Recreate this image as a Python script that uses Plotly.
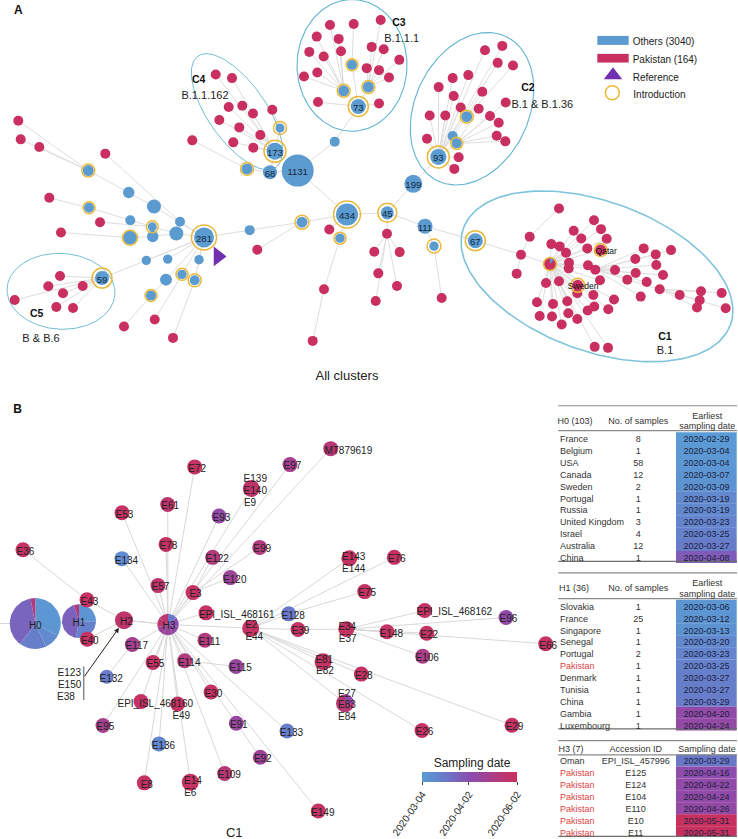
import math
import plotly.graph_objects as go
from plotly.colors import sample_colorscale

W, H = 738, 839
BLUE, RED, GOLD, PURPLE = "#5B9BD0", "#C9305F", "#E9B93C", "#7030B0"
EDGE, ELL, ELL_C1 = "#DEDEDE", "#62B5D0", "#7FC4DC"
SCALE = [[0, "#5A9BD5"], [0.25, "#6A78C8"], [0.5, "#8B4DB0"], [1, "#CB2F5B"]]
FONT = "Liberation Sans, Arial, sans-serif"

# ---- Panel A: nodes that carry children or a ring
hub_id = ["h281","h59","n1","n2","n3","n4","n5","n6","n7","n8","n9","n10","n11","n12","h434","n13",
          "n14","n15","n16","n17","n18","n19","n20","n21","h173","h68","h1131","n22","n23","h73",
          "n24","n25","n26","n27","n28","n29","h93","h199","h45","h111","n30","h67",
          "r1","r2","r3","c1","r4","r5","r6","qatar","sweden"]
hub_x = [204,102,88.3,128.7,154,89,130.3,152.3,180,152.7,130,176.3,249.7,302,347,340,
         146.3,167.7,199,182,194.7,166,151,280,275,270,297.7,247,334.7,358.3,
         352,343.7,368.3,466.7,452.7,456.7,438.3,413.3,387.3,425,434,475.3,
         387,521,529.7,550,595.3,659.7,324,600.7,577.7]
hub_y = [238,278.7,171,193,207,208.3,220.7,227.3,222.3,237,238.3,234,230.7,222.7,215,238.7,
         261,259.7,260.3,275,281,280.3,296.3,128.3,151.7,172.7,171,169.3,142,106.7,
         65,91,87.3,117,136.3,143.7,157.3,184.3,213.3,226.7,246.7,241.3,
         234.3,255.3,237.3,264.7,270.3,290,290,250.7,286]
hub_r = [10,7,5.5,5.7,7,5,5,4.5,5,5.7,7,7,5,5.5,11,4.7,
         4.7,4.7,4.7,4.7,5,6,5,4.5,8.5,7,16,5.5,5,7.5,
         5,5.5,5.5,5.5,5,5,8,9,6.5,7.5,4.7,7.5,
         5,5,5,6,5,5,5,5.5,5.5]
hub_ring = [12.5,10,6.5,0,0,6,0,6,0,0,7.5,0,0,7,13.5,6,
            0,0,0,6,6.5,0,6,6.5,11,0,0,6.5,0,10,
            6,6.5,6.5,6.5,0,6,11,0,9.5,0,7,10,
            0,0,0,6.5,0,0,0,6.5,7]
hub_label = ["281","59","","","","","","","","","","","","","434","",
             "","","","","","","","","173","68","1131","","","73",
             "","","","","","","93","199","45","111","","67",
             "","","","","","","","",""]
hub_parent = ["","h281","n2","n3","h281","n5","n6","n10","h281","n10","n8","h281","h281","n11","n12","h434",
              "h281","h281","h281","h281","h281","h281","n19","h173","h68","h1131","h434","h68","h1131","n23",
              "h73","h73","h73","h93","h93","h93","h199","h45","h434","h45","h111","h111",
              "h45","h67","r2","r2","c1","r4","n13","c1","c1"]
hub_kind = ["b"]*42 + ["r"]*9

# ---- Panel A: leaf samples from Pakistan
red_x = [18.3,20.7,39.3,105.3,49.3,100,61,
         60,48.3,82.7,63,14.7,56.3,73,
         124,154.7,173,257.3,329.3,312.7,
         215.7,232,228.7,242.3,253,272.3,219.3,239.3,260.3,233.3,253.3,192.3,
         330,353.7,380.7,316.7,338.7,309.3,323.7,341,371.7,383.7,399.3,304,317.3,366.7,379,389,318,379,
         485,502.3,497.7,513,452.7,468.3,438.7,453.7,482.3,505.7,460.7,478.7,429.7,445.3,490,498.7,496.7,505.3,427,458.7,454.3,
         374.3,399.7,378.3,397,375.7,441.7,
         559,516.7,594,573.7,601,581.3,606.7,551.3,559.7,566,587.3,569,568.7,588,546,559,600,577.3,593.3,614,
         537,553,567.3,594.3,587.7,608.3,539.7,552,568.3,577.3,561.7,594.7,608,
         615,643.7,671,635.3,655.7,656.3,635.7,663,627.3,646.7,640.7,
         679.7,701,721.7,699.7,697,725.7]
red_y = [121,139.7,147.3,154,198.3,222.7,233,
         276.7,287,286.7,294,300.7,307.7,308.7,
         327.3,320.3,338.7,250.3,230,341.7,
         74.7,78.3,107.3,106,113.7,110,120.3,127.7,135.3,142.7,148,140.7,
         25,24,20,36.7,39,52,56.7,51.3,47,49.3,60,76.7,72.7,68.3,70.3,77.7,102.3,103.7,
         50.3,46,63,65.7,78.3,75.3,87.3,96.3,92,102.7,107.7,109,115.7,115.7,116.3,123,136,141.7,139,157.7,169.3,
         252.3,252.7,274,286.7,301.7,298.7,
         209,274.3,220.7,231.3,229.7,239,239.3,244.7,247,253.3,249,263.3,269,266,283.7,282,281,294,295.7,300.3,
         303,304.7,302,307.3,311.3,310,316.7,317.3,314,319.7,325.3,347.7,348.7,
         270.7,249,250.7,259.7,255,265.7,273.7,275.7,280.3,282.7,297.3,
         295.7,292,293.7,301,308.3,309]
red_parent = ["n1","n1","n1","n7","n4","n6","n9",
              *["h59"]*7,
              "n20","n17","n18","n12","h434","r6",
              "h173","h173","h173","h173","h173","n21","h173","h173","h173","h173","h173","n22",
              "n25","n24","n26","n25","n25","n25","n25","n25","n26","n26","n26","n25","n25","n26","n26","n26","h73","h73",
              "h93","h93","h93","n27","h93","h93","h93","h93","n27","n29","h93","n29","h93","h93","n29","n29","n29","n29","h93","h93","h93",
              "r1","r1","r1","r1","r1","n30",
              "r3","r2",*["c1"]*18,
              *["c1"]*13,
              *["r4"]*11,
              *["r5"]*6]

triangle_x, triangle_y = [218], [257]

# ---- Panel A: cluster ellipses: centre, half-axes, tilt
ell_cx = [597, 472, 352, 237, 61]
ell_cy = [277, 109, 65.5, 112, 292]
ell_a = [142, 80, 66, 68, 54]
ell_b = [75, 57, 55, 29, 38]
ell_deg = [20, -65, 90, 55, 3]
ell_w = [1.6, 1.1, 1.1, 0.9, 0.9]
ell_color = [ELL_C1, ELL, ELL, ELL, ELL]

a_text = ["C4","B.1.1.162","C3","B.1.1.1","C2","B.1 & B.1.36","C1","B.1","C5","B & B.6"]
a_text_x = [198.7,205,399,401.7,528,542.3,665,665,36.7,41]
a_text_y = [79,94.3,21.7,37.7,87,103.3,335.7,350.3,313,338]

# ---- Panel B: haplotype network
b_id = ["E36","E43","E40","H2","E53","E61","E72","E78","E93","E134","E57","E122","E99","E3","E120",
        "E140","E97","MT879619","EPI161","E128","E2","E111","E117","E55","E114","E115","E132","E30",
        "EPI160","E49","E95","E91","E136","E133","E92","E14","E8","E109","E149",
        "E143","E76","E75","E39","E34","E148","EPI162","E22","E96","E66","E106","E81","E28","E83","E26","E29"]
b_x = [23,87,87.3,124,122,167.7,194.7,166,219,122,158,212.7,259.7,193,230.3,
       251.3,290,330.7,206,288.7,250.7,205,132.3,153,184.7,236,106.7,211,
       141,177.7,103,236.3,159,287,260.3,190.3,144.3,224.7,318.3,
       349.3,394.3,364.7,298,346.3,387,424.7,426.7,506,545.7,422.7,323,361.3,345,422,512]
b_y = [551,601.3,640.7,621.7,514,505.7,468,545.7,517.3,560,587,558.7,548.7,594,579,
       489.7,465.7,449.7,614.3,615.3,629.7,641.7,646,664,662.3,668,678.3,693.7,
       703.3,705.7,727.3,725,745.7,732.7,759,784,784.7,775.3,813,
       559.7,558.7,593,631,630.7,633.3,612,634.7,619,645.3,657.7,663.3,675.7,705,732.3,727]
b_r = [7.5,7.5,7.5,9,7.5,7.5,7.5,7.5,7.5,7.5,7.5,7.5,7.5,7.5,7.5,
       8.5,7.5,7.5,7.5,7.5,8.5,7.5,7.5,7.5,7.5,7.5,7,7.5,
       7.5,7.5,7.5,7.5,7.5,7.5,7.5,8.5,7.5,7.5,7.5,
       8,7.5,7.5,7.5,8,7.5,7.5,7.5,7.5,7.5,7.5,8.5,7.5,9,7.5,7.5]
b_t = [.95,.95,.95,.9,.95,.9,.95,.95,.55,.12,.9,.8,.8,.95,.65,
       .9,.7,.85,.95,.25,.95,.8,.7,.95,.8,.6,.22,.95,
       .95,.95,.7,.6,.14,.2,.65,.95,.95,.85,.95,
       .95,.95,.95,.95,.95,.95,.95,.95,.55,.95,.75,.95,.95,.85,.95,.95]
b_parent = ["E43","H2","H2","H3","H3","H3","H3","H3","H3","H3","H3","E3","E3","H3","E3",
            "H3","H3","H3","H3","E2","H3","H3","H3","H3","H3","E114","E117","H3",
            "H3","H3","H3","H3","H3","H3","E91","H3","H3","H3","H3",
            "E2","E2","E128","E2","E39","E34","E34","E34","E34","E34","E34","E2","E2","E2","E2","E2"]
b_show = ["E36","E43","E40","H2","E53","E61","E72","E78","E93","E134","E57","E122","E99","E3","E120",
          "","E97","MT879619","EPI_ISL_468161","E128","","E111","E117","E55","E114","E115","E132","E30",
          "EPI_ISL_468160","","E95","E91","E136","E133","E92","","E8","E109","E149",
          "","E76","E75","E39","","E148","EPI_ISL_468162","E22","E96","E66","E106","","E28","","E26","E29"]
# labels that sit apart from their node
extra_text = ["E139","E140","E9","E14","E6","E2","E44","E143","E144","E34","E37","E81","E82","E27","E83","E84","E49",
              "E123","E150","E38","H0","H1","H3"]
extra_x = [255.3,255.3,250,193,190.3,251.3,254.3,353.7,353.7,347.3,347.7,324.3,325,347,347,347,181.3,
           69.3,69.6,66,35.3,79,169]
extra_y = [479,491,503,781.7,793.7,625,637,557,569,627,638.7,660,671.7,694,705.7,717.7,716.3,
           673.7,685.7,697.7,626,622.7,626.5]
long_label_x = {"MT879619":348.3,"EPI_ISL_468161":236.7,"EPI_ISL_468160":155.3,"EPI_ISL_468162":454.3}

# pies: centre, radius, slice shares from 12 o'clock clockwise, slice dates
pie_name = ["H0","H1","H3"]
pie_x = [35.3,79,168]
pie_y = [625,622.7,626]
pie_r = [25.5,17,10.7]
pie_share = [[.33,.1,.17,.37,.03],[.25,.28,.42,.05],[1/7]*7]
pie_t = [[.03,.12,.2,.36,.8],[.04,.18,.38,.8],[.25,.5,.55,.6,.65,.88,.88]]
pie_parent = ["","H0","H2"]

# ---- Tables
t1_country = ["France","Belgium","USA","Canada","Sweden","Portugal","Russia","United Kingdom","Israel","Australia","China"]
t1_n = ["8","1","58","12","2","1","1","3","4","12","1"]
t1_date = ["2020-02-29","2020-03-04","2020-03-04","2020-03-07","2020-03-09","2020-03-19","2020-03-19","2020-03-23","2020-03-25","2020-03-27","2020-04-08"]
t1_t = [0,.02,.02,.04,.06,.13,.13,.16,.18,.22,.42]
t2_country = ["Slovakia","France","Singapore","Senegal","Portugal","Pakistan","Denmark","Tunisia","China","Gambia","Luxembourg"]
t2_n = ["1","25","1","1","2","1","1","1","1","1","1"]
t2_date = ["2020-03-06","2020-03-12","2020-03-13","2020-03-20","2020-03-23","2020-03-25","2020-03-27","2020-03-27","2020-03-29","2020-04-20","2020-04-24"]
t2_t = [.03,.05,.06,.13,.16,.18,.2,.2,.22,.55,.57]
t3_country = ["Oman","Pakistan","Pakistan","Pakistan","Pakistan","Pakistan","Pakistan"]
t3_id = ["EPI_ISL_457996","E125","E124","E104","E110","E10","E11"]
t3_date = ["2020-03-29","2020-04-16","2020-04-22","2020-04-24","2020-04-26","2020-05-31","2020-05-31"]
t3_t = [.25,.52,.55,.55,.57,.97,.97]
table_first = [439.3,607.3,762.3]
table_step = [11.9,11.9,12]
table_rules = [[406.7,431.7,562.7],[574.3,600,730.7],[742.3,756.7,838.3]]
head_text = ["H0 (103)","No. of samples","Earliest","sampling date",
             "H1 (36)","No. of samples","Earliest","sampling date",
             "H3 (7)","Accession ID","Sampling date"]
head_x = [575,638.3,707.3,707.3, 574,638.3,707.3,707.3, 571,635.7,707]
head_y = [420.7,420.7,415.7,426.3, 588.7,588.7,583.3,594, 750,750,750]
legend_text = ["Others (3040)","Pakistan (164)","Reference","Introduction"]
legend_text_x = [632.7,632.7,632.7,633.3]
legend_text_y = [40.7,58.7,76.3,94.3]
title_text = ["All clusters","C1","Sampling date"]
title_x = [347,234.3,472]
title_y = [375,833,763.7]
cb_ticks = [0,.49,1]
cb_labels = ["2020-03-04","2020-04-02","2020-06-02"]

fig = go.Figure()

def seg_trace(xs, ys, color=EDGE, width=1):
    fig.add_trace(go.Scatter(x=xs, y=ys, mode="lines", line=dict(color=color, width=width),
                             hoverinfo="skip", showlegend=False))

def text_trace(xs, ys, texts, size=10, color="#222", pos="middle center", bold=False):
    dy = 0.19 * size  # plotly's middle anchor sits above the visual centre of the glyphs
    fig.add_trace(go.Scatter(x=xs, y=[y + dy for y in ys], text=texts, mode="text", textposition=pos, hoverinfo="skip",
                             showlegend=False,
                             textfont=dict(family=FONT, size=size, color=color,
                                           weight="bold" if bold else "normal")))

def tcolor(t):
    return sample_colorscale(SCALE, [t])[0]

def wedges(cx, cy, r, shares, ts):
    start = 0.0
    for s, t in zip(shares, ts):
        n = max(2, int(s * 60))
        angs = [start + s * 2 * math.pi * i / n for i in range(n + 1)]
        xs = [cx] + [cx + r * math.sin(a) for a in angs] + [cx]
        ys = [cy] + [cy - r * math.cos(a) for a in angs] + [cy]
        fig.add_trace(go.Scatter(x=xs, y=ys, mode="lines", fill="toself", fillcolor=tcolor(t),
                                 line=dict(width=0), hoverinfo="skip", showlegend=False))
        start += s * 2 * math.pi

# table colour bands (below everything)
band_rows, band_t = [], []
for first, step, ts in zip(table_first, table_step, [t1_t, t2_t, t3_t]):
    band_rows += [first + step * i for i in range(len(ts))]
    band_t += ts
fig.add_trace(go.Bar(y=band_rows, x=[60.7]*len(band_rows), base=[676]*len(band_rows), orientation="h",
                     width=[12.1]*len(band_rows), marker=dict(color=band_t, coloraxis="coloraxis", line_width=0),
                     hoverinfo="skip", showlegend=False))

# Panel A edges
pos = {k: (x, y) for k, x, y in zip(hub_id, hub_x, hub_y)}
ex, ey = [], []
for k, p in zip(hub_id, hub_parent):
    if p:
        ex += [pos[k][0], pos[p][0], None]; ey += [pos[k][1], pos[p][1], None]
for x, y, p in zip(red_x, red_y, red_parent):
    ex += [x, pos[p][0], None]; ey += [y, pos[p][1], None]
seg_trace(ex, ey)

# ellipses
for cx, cy, a, b, d, w, c in zip(ell_cx, ell_cy, ell_a, ell_b, ell_deg, ell_w, ell_color):
    th = math.radians(d)
    us = [2 * math.pi * i / 180 for i in range(181)]
    xs = [cx + a * math.cos(u) * math.cos(th) - b * math.sin(u) * math.sin(th) for u in us]
    ys = [cy + a * math.cos(u) * math.sin(th) + b * math.sin(u) * math.cos(th) for u in us]
    seg_trace(xs, ys, c, w)

# Panel A nodes
fig.add_trace(go.Scatter(x=red_x, y=red_y, mode="markers", hoverinfo="skip", showlegend=False,
                         marker=dict(size=10, color=RED, line_width=0, opacity=1)))
fig.add_trace(go.Scatter(x=hub_x, y=hub_y, mode="markers", hoverinfo="skip", showlegend=False,
                         marker=dict(size=[2*r for r in hub_r], color=[BLUE if k == "b" else RED for k in hub_kind],
                                     line_width=0, opacity=1)))
ring_i = [i for i, r in enumerate(hub_ring) if r]
fig.add_trace(go.Scatter(x=[hub_x[i] for i in ring_i], y=[hub_y[i] for i in ring_i], mode="markers",
                         hoverinfo="skip", showlegend=False,
                         marker=dict(symbol="circle-open", size=[2*hub_ring[i] for i in ring_i], color=GOLD, opacity=1,
                                     line=dict(width=1.5, color=GOLD))))
wedges(550, 264.7, 5.5, [.12], [0])
fig.add_trace(go.Scatter(x=triangle_x, y=triangle_y, mode="markers", hoverinfo="skip", showlegend=False,
                         marker=dict(symbol="triangle-right", size=17, color=PURPLE, line_width=0)))
lab_i = [i for i, l in enumerate(hub_label) if l]
text_trace([hub_x[i] for i in lab_i], [hub_y[i] + .3 for i in lab_i], [hub_label[i] for i in lab_i], size=9.5, color="#16283a")
text_trace([pos["qatar"][0] + 5.5, pos["sweden"][0] + 5.5], [pos["qatar"][1], pos["sweden"][1]], ["Qatar", "Sweden"], size=8.5, color="#111")
text_trace(a_text_x[:1] + a_text_x[2:3] + a_text_x[4:5] + a_text_x[6:7] + a_text_x[8:9],
           a_text_y[:1] + a_text_y[2:3] + a_text_y[4:5] + a_text_y[6:7] + a_text_y[8:9],
           a_text[:1] + a_text[2:3] + a_text[4:5] + a_text[6:7] + a_text[8:9], size=10.5, color="#111", bold=True)
text_trace(a_text_x[1::2], a_text_y[1::2], a_text[1::2], size=11, color="#222")
text_trace([18.3, 17.7], [9, 408.3], ["A", "B"], size=12, color="#111", bold=True)

# Legend marks
fig.add_trace(go.Scatter(x=[613], y=[75.5], mode="markers", hoverinfo="skip", showlegend=False,
                         marker=dict(symbol="triangle-up", size=16, color=PURPLE, line_width=0)))
fig.add_trace(go.Scatter(x=[612.3], y=[93], mode="markers", hoverinfo="skip", showlegend=False,
                         marker=dict(symbol="circle-open", size=14, color=GOLD, line=dict(width=1.5, color=GOLD))))
text_trace(legend_text_x, legend_text_y, legend_text, size=10, color="#222", pos="middle right")

# Panel B edges
bpos = {k: (x, y) for k, x, y in zip(b_id, b_x, b_y)}
bpos.update({k: (x, y) for k, x, y in zip(pie_name, pie_x, pie_y)})
ex, ey = [0, 35.3, None], [625, 625, None]
for k, p in list(zip(b_id, b_parent)) + list(zip(pie_name, pie_parent)):
    if p:
        ex += [bpos[k][0], bpos[p][0], None]; ey += [bpos[k][1], bpos[p][1], None]
seg_trace(ex, ey, "#D8D8D8", 1)

# pies and nodes
for i in range(2):
    wedges(pie_x[i], pie_y[i], pie_r[i], pie_share[i], pie_t[i])
fig.add_trace(go.Scatter(x=b_x, y=b_y, mode="markers", hoverinfo="skip", showlegend=False,
                         marker=dict(size=[2*r for r in b_r], color=b_t, coloraxis="coloraxis", line_width=0, opacity=1)))
wedges(pie_x[2], pie_y[2], pie_r[2], pie_share[2], pie_t[2])
wedges(345, 705, 9, [.25], [.55])

# labels
lx, ly, lt = [], [], []
for x, y, s in zip(b_x, b_y, b_show):
    if not s:
        continue
    if s in long_label_x:
        lx.append(long_label_x[s])
    else:
        lx.append(x + (4.5 if len(s) >= 4 else 2.5))
    ly.append(y + .5)
    lt.append(s)
text_trace(lx + extra_x, ly + extra_y, lt + extra_text, size=10, color="#222")

# bracket and arrow
seg_trace([83.7, 83.7], [668, 701.7], "#888", 1.5)
fig.add_annotation(x=119, y=629.3, ax=83.5, ay=679.3, xref="x", yref="y", axref="x", ayref="y", text="",
                   showarrow=True, arrowhead=2, arrowsize=1, arrowwidth=1, arrowcolor="#222")

# table rules
for rules in table_rules:
    for i, y in enumerate(rules):
        seg_trace([558.3, 737], [y, y], "#8A8A8A" if i < 2 else "#6E6E6E", 1.2)

# table text
NAME_X, MID_X, DATE_X = 560, 638.3, 706.5
for first, step, names, mid, dates in [(table_first[0], table_step[0], t1_country, t1_n, t1_date),
                                       (table_first[1], table_step[1], t2_country, t2_n, t2_date),
                                       (table_first[2], table_step[2], t3_country, t3_id, t3_date)]:
    ys = [first + step * i for i in range(len(names))]
    fig.add_trace(go.Scatter(x=[NAME_X]*len(ys), y=[y + 1.7 for y in ys], text=names, mode="text", textposition="middle right",
                             hoverinfo="skip", showlegend=False,
                             textfont=dict(family=FONT, size=9,
                                           color=["#E2413F" if n == "Pakistan" else "#333" for n in names])))
    text_trace([MID_X if dates is not t3_date else 635.7]*len(ys), ys, mid, size=9, color="#333")
    text_trace([DATE_X]*len(ys), ys, dates, size=9, color="#1d2340")
text_trace(head_x, head_y, head_text, size=9, color="#333")
text_trace(title_x[:2], title_y[:2], title_text[:2], size=13, color="#222")
text_trace(title_x[2:], title_y[2:], title_text[2:], size=12, color="#222")

shapes = [
    dict(type="rect", xref="x", yref="y", x0=597.3, x1=628.7, y0=36, y1=45, fillcolor=BLUE, line_width=0, layer="below"),
    dict(type="rect", xref="x", yref="y", x0=597.3, x1=628.7, y0=54, y1=62.7, fillcolor=RED, line_width=0, layer="below"),
]

fig.update_layout(
    width=W, height=H, margin=dict(l=0, r=0, t=0, b=0), paper_bgcolor="white", plot_bgcolor="white",
    showlegend=False, shapes=shapes, barmode="overlay", font=dict(family=FONT),
    xaxis=dict(range=[0, W], visible=False, fixedrange=True),
    yaxis=dict(range=[H, 0], visible=False, fixedrange=True),
    coloraxis=dict(cmin=0, cmax=1, colorscale=SCALE, colorbar=dict(
        orientation="h", x=422.3 / W, xanchor="left", y=1 - 774.3 / H, yanchor="top",
        len=95.4, lenmode="pixels", thickness=9.7, thicknessmode="pixels", xpad=0, ypad=0,
        outlinewidth=0, tickvals=cb_ticks, ticktext=cb_labels, ticks="outside", ticklen=3, tickwidth=1,
        tickcolor="#444", tickangle=-56, tickfont=dict(family=FONT, size=10, color="#222"))),
)
fig.write_html("out.html", post_script="document.body.style.margin='0';document.body.style.overflow='hidden';",
               config={"displayModeBar": False})
